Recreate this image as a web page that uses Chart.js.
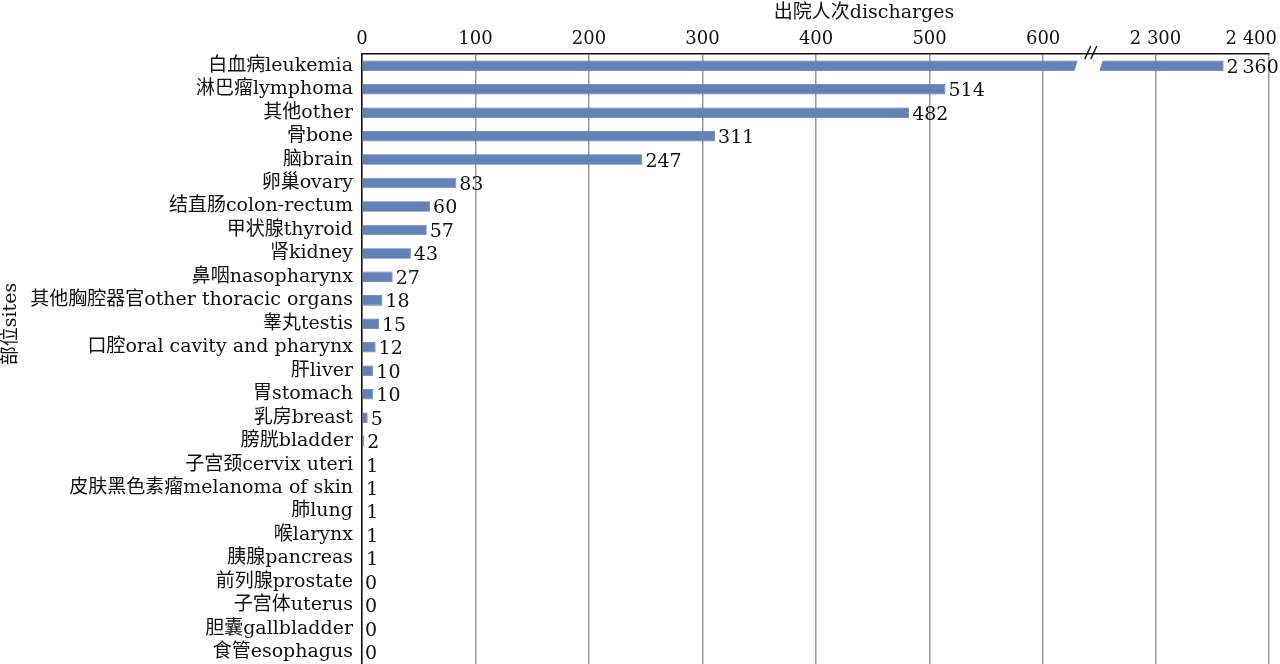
<!DOCTYPE html>
<html>
<head>
<meta charset="utf-8">
<script src="https://cdn.jsdelivr.net/npm/chart.js@4/dist/chart.umd.min.js"></script>
<style>
    html, body { margin: 0; padding: 0; background: #fff; overflow: hidden; }
    #c1 { display: block; }
</style>
</head>
<body>
<canvas id="c1" width="1280" height="664"></canvas>
<script>
const SITES = ['白血病leukemia', '淋巴瘤lymphoma', '其他other', '骨bone', '脑brain', '卵巢ovary', '结直肠colon-rectum',
    '甲状腺thyroid', '肾kidney', '鼻咽nasopharynx', '其他胸腔器官other thoracic organs', '睾丸testis',
    '口腔oral cavity and pharynx', '肝liver', '胃stomach', '乳房breast', '膀胱bladder', '子宫颈cervix uteri',
    '皮肤黑色素瘤melanoma of skin', '肺lung', '喉larynx', '胰腺pancreas', '前列腺prostate', '子宫体uterus',
    '胆囊gallbladder', '食管esophagus'];
const DISCHARGES = [2360, 514, 482, 311, 247, 83, 60, 57, 43, 27, 18, 15, 12, 10, 10, 5, 2, 1, 1, 1, 1, 1, 0, 0, 0, 0];
const LOW_TICKS = [0, 100, 200, 300, 400, 500, 600];
const HIGH_TICKS = [2300, 2400];

// broken axis: values above the break are shifted left by BREAK_SHIFT
const BREAK_AT = 640;
const BREAK_SHIFT = 1601;
const FONT = '"DejaVu Serif", "Noto Sans CJK SC", serif';

function toAxis(v){
    return v > BREAK_AT ? v - BREAK_SHIFT : v;
}
function fmt(v, sep){
    return String(v).replace(/\B(?=(\d{3})+(?!\d))/g, sep || ' ');
}

const breakPlugin = {
    id: 'breaks',
    afterDatasetsDraw(chart){
        const ctx = chart.ctx;
        const x = chart.scales.x;
        const meta = chart.getDatasetMeta(0);
        const area = chart.chartArea;
        ctx.save();
        // gap in the leukemia bar
        DISCHARGES.forEach((v, i) => {
            if(v <= BREAK_AT) return;
            const bar = meta.data[i];
            const h = bar.height / 2 + 1;
            const x0 = x.getPixelForValue(629);
            const x1 = x.getPixelForValue(651);
            ctx.fillStyle = '#fff';
            ctx.beginPath();
            ctx.moveTo(x0 + 2, bar.y - h);
            ctx.lineTo(x1 + 2, bar.y - h);
            ctx.lineTo(x1 - 2, bar.y + h);
            ctx.lineTo(x0 - 2, bar.y + h);
            ctx.closePath();
            ctx.fill();
        });
        // value labels
        ctx.fillStyle = '#111';
        ctx.font = '19px ' + FONT;
        ctx.textBaseline = 'middle';
        ctx.textAlign = 'left';
        DISCHARGES.forEach((v, i) => {
            const bar = meta.data[i];
            ctx.fillText(fmt(v, '\u2009'), bar.x + 3, bar.y + 2);
        });
        // top tick labels (last one kept inside the canvas)
        ctx.font = '18px ' + FONT;
        LOW_TICKS.concat(HIGH_TICKS).forEach(v => {
            const t = fmt(v);
            const w = ctx.measureText(t).width;
            let px = x.getPixelForValue(toAxis(v)) - w / 2;
            px = Math.min(px, chart.width - w - 3);
            ctx.fillText(t, px, 39);
        });
        // break mark on the top axis
        const bx = x.getPixelForValue(642);
        ctx.strokeStyle = '#111';
        ctx.lineWidth = 1.4;
        [-3, 3].forEach(d => {
            ctx.beginPath();
            ctx.moveTo(bx + d - 3, area.top + 5);
            ctx.lineTo(bx + d + 3, area.top - 8);
            ctx.stroke();
        });
        // titles
        ctx.fillStyle = '#111';
        ctx.font = '19px ' + FONT;
        ctx.textAlign = 'center';
        ctx.fillText('出院人次discharges', 864, 13);
        ctx.translate(11, 324);
        ctx.rotate(-Math.PI / 2);
        ctx.fillText('部位sites', 0, 0);
        ctx.restore();
    }
};

new Chart(document.getElementById('c1').getContext('2d'), {
    type: 'bar',
    data: {
        labels: SITES,
        datasets: [{
            data: DISCHARGES.map(toAxis),
            backgroundColor: '#6383b8',
            borderColor: '#5a78aa',
            borderWidth: 0.8,
            barPercentage: 0.45,
            categoryPercentage: 1
        }]
    },
    options: {
        indexAxis: 'y',
        responsive: false,
        animation: false,
        layout: { autoPadding: false, padding: { left: 0, right: 11, top: 0, bottom: 0 } },
        plugins: {
            legend: { display: false },
            tooltip: { enabled: false }
        },
        scales: {
            x: {
                position: 'top',
                min: 0,
                max: toAxis(2400),
                afterBuildTicks: s => {
                    s.ticks = LOW_TICKS.concat(HIGH_TICKS).map(v => ({ value: toAxis(v) }));
                },
                afterFit: s => { s.height = 54; s.paddingLeft = 0; s.paddingRight = 0; },
                ticks: { display: false },
                grid: { color: '#9a9a9a', lineWidth: 1.5, drawTicks: false },
                border: { color: '#111', width: 1.5 }
            },
            y: {
                afterFit: s => { s.width = 362; s.paddingTop = 0; s.paddingBottom = 0; },
                ticks: {
                    padding: 9,
                    color: '#111',
                    font: { family: FONT, size: 19 },
                    autoSkip: false
                },
                grid: { display: false, drawTicks: false },
                border: { color: '#111', width: 1.5 }
            }
        }
    },
    plugins: [breakPlugin]
});
</script>
</body>
</html>
